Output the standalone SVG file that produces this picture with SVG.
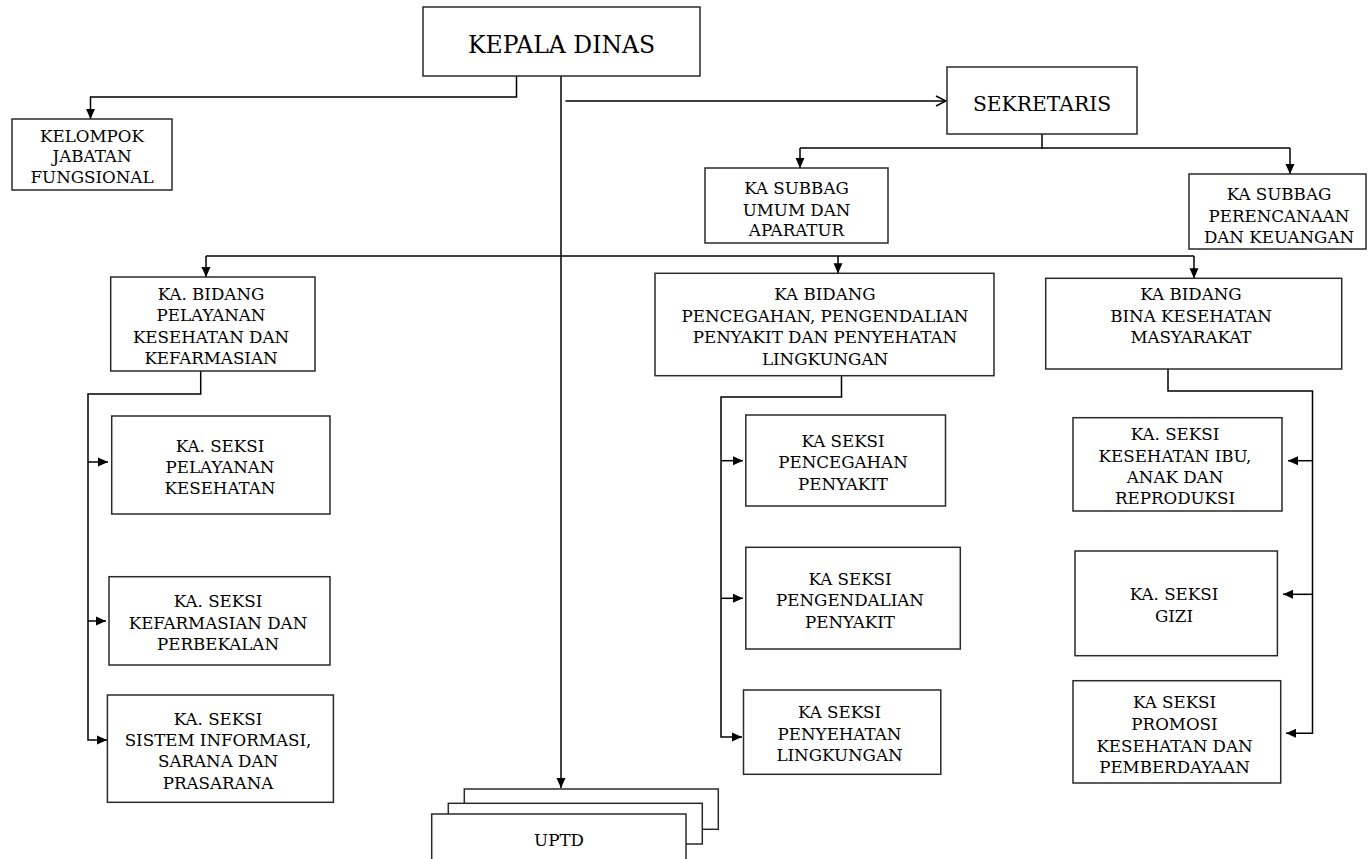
<svg xmlns="http://www.w3.org/2000/svg" width="1368" height="859" viewBox="0 0 1368 859">
<style>
  .box { fill: #ffffff; stroke: #2a2a2a; stroke-width: 1.5; }
  .ln { fill: none; stroke: #000000; stroke-width: 1.5; }
  text { font-family: "DejaVu Serif", "Liberation Serif", serif; fill: #000000; text-anchor: middle; }
  .t { font-size: 16.7px; }
  .big { font-size: 23.5px; }
  .mid { font-size: 20.3px; }
</style>
<defs>
  <marker id="arr" viewBox="0 0 10 10" refX="10" refY="5" markerWidth="10" markerHeight="10" markerUnits="userSpaceOnUse" orient="auto">
    <path d="M0,0.5 L10,5 L0,9.5 z" fill="#000"/>
  </marker>
  <marker id="open" viewBox="0 0 12 12" refX="11" refY="6" markerWidth="12" markerHeight="12" markerUnits="userSpaceOnUse" orient="auto">
    <path d="M1,1 L11,6 L1,11" fill="none" stroke="#000" stroke-width="1.5"/>
  </marker>
</defs>
<rect width="1368" height="859" fill="#ffffff"/>

<g id="connectors">
  <polyline class="ln" points="516.5,76 516.5,97 90.5,97 90.5,119" marker-end="url(#arr)"/>
  <line class="ln" x1="561" y1="76" x2="561" y2="788" marker-end="url(#arr)"/>
  <line class="ln" x1="565.5" y1="101" x2="946" y2="101" marker-end="url(#open)"/>
  <line class="ln" x1="1042" y1="134" x2="1042" y2="149"/>
  <line class="ln" x1="800" y1="148" x2="1290" y2="148"/>
  <line class="ln" x1="800" y1="148" x2="800" y2="168" marker-end="url(#arr)"/>
  <line class="ln" x1="1290" y1="148" x2="1290" y2="174" marker-end="url(#arr)"/>
  <line class="ln" x1="206" y1="256" x2="1194" y2="256"/>
  <line class="ln" x1="206" y1="256" x2="206" y2="277" marker-end="url(#arr)"/>
  <line class="ln" x1="838" y1="256" x2="838" y2="273.3" marker-end="url(#arr)"/>
  <line class="ln" x1="1194" y1="256" x2="1194" y2="278.3" marker-end="url(#arr)"/>
  <polyline class="ln" points="200.7,371 200.7,394 88,394 88,740 107,740" marker-end="url(#arr)"/>
  <line class="ln" x1="88" y1="462" x2="108" y2="462" marker-end="url(#arr)"/>
  <line class="ln" x1="88" y1="621" x2="106" y2="621" marker-end="url(#arr)"/>
  <polyline class="ln" points="841.5,375.7 841.5,397 721,397 721,737 742,737" marker-end="url(#arr)"/>
  <line class="ln" x1="721" y1="460.7" x2="743" y2="460.7" marker-end="url(#arr)"/>
  <line class="ln" x1="721" y1="598.3" x2="743" y2="598.3" marker-end="url(#arr)"/>
  <polyline class="ln" points="1168,369 1168,391 1312.5,391 1312.5,733.3 1286,733.3" marker-end="url(#arr)"/>
  <line class="ln" x1="1312.5" y1="460.7" x2="1288" y2="460.7" marker-end="url(#arr)"/>
  <line class="ln" x1="1312.5" y1="594.3" x2="1283" y2="594.3" marker-end="url(#arr)"/>
</g>

<g id="kepala-dinas">
  <rect class="box" x="423" y="7" width="277" height="69"/>
  <text class="big" x="561.5" y="53">KEPALA DINAS</text>
</g>

<g id="kelompok-jabatan">
  <rect class="box" x="12" y="119" width="160" height="71"/>
  <text class="t" x="92" y="141.5">KELOMPOK</text>
  <text class="t" x="92" y="162">JABATAN</text>
  <text class="t" x="92" y="183">FUNGSIONAL</text>
</g>

<g id="sekretaris">
  <rect class="box" x="947" y="67" width="190" height="67"/>
  <text class="mid" x="1042" y="110.5">SEKRETARIS</text>
</g>

<g id="subbag-umum">
  <rect class="box" x="705" y="168" width="183" height="75"/>
  <text class="t" x="796.5" y="194.3">KA SUBBAG</text>
  <text class="t" x="796.5" y="215.7">UMUM DAN</text>
  <text class="t" x="796.5" y="236">APARATUR</text>
</g>

<g id="subbag-perencanaan">
  <rect class="box" x="1189" y="174" width="177" height="75"/>
  <text class="t" x="1279" y="200">KA SUBBAG</text>
  <text class="t" x="1279" y="221.7">PERENCANAAN</text>
  <text class="t" x="1279" y="242.7">DAN KEUANGAN</text>
</g>

<g id="bidang-pelayanan">
  <rect class="box" x="110.7" y="277" width="204.3" height="94"/>
  <text class="t" x="211" y="300">KA. BIDANG</text>
  <text class="t" x="211" y="321.3">PELAYANAN</text>
  <text class="t" x="211" y="342.6">KESEHATAN DAN</text>
  <text class="t" x="211" y="364">KEFARMASIAN</text>
</g>

<g id="bidang-p2pl">
  <rect class="box" x="655" y="273.3" width="339" height="102.4"/>
  <text class="t" x="825" y="300">KA BIDANG</text>
  <text class="t" x="825" y="321.7">PENCEGAHAN, PENGENDALIAN</text>
  <text class="t" x="825" y="343.3">PENYAKIT DAN PENYEHATAN</text>
  <text class="t" x="825" y="365">LINGKUNGAN</text>
</g>

<g id="bidang-kesmas">
  <rect class="box" x="1045.7" y="278.3" width="296" height="90.7"/>
  <text class="t" x="1191" y="300">KA BIDANG</text>
  <text class="t" x="1191" y="321.7">BINA KESEHATAN</text>
  <text class="t" x="1191" y="343.3">MASYARAKAT</text>
</g>

<g id="seksi-pelayanan">
  <rect class="box" x="111.7" y="416" width="218.3" height="98"/>
  <text class="t" x="220" y="451.7">KA. SEKSI</text>
  <text class="t" x="220" y="472.7">PELAYANAN</text>
  <text class="t" x="220" y="494.3">KESEHATAN</text>
</g>

<g id="seksi-kefarmasian">
  <rect class="box" x="109" y="576.7" width="221" height="88.3"/>
  <text class="t" x="218" y="607">KA. SEKSI</text>
  <text class="t" x="218" y="628.5">KEFARMASIAN DAN</text>
  <text class="t" x="218" y="650">PERBEKALAN</text>
</g>

<g id="seksi-sistem-informasi">
  <rect class="box" x="107.4" y="695" width="226" height="107.3"/>
  <text class="t" x="218" y="725">KA. SEKSI</text>
  <text class="t" x="218" y="746">SISTEM INFORMASI,</text>
  <text class="t" x="218" y="767.3">SARANA DAN</text>
  <text class="t" x="218" y="789">PRASARANA</text>
</g>

<g id="seksi-pencegahan">
  <rect class="box" x="745.8" y="415" width="199.7" height="91"/>
  <text class="t" x="843" y="447.3">KA SEKSI</text>
  <text class="t" x="843" y="468.3">PENCEGAHAN</text>
  <text class="t" x="843" y="490">PENYAKIT</text>
</g>

<g id="seksi-pengendalian">
  <rect class="box" x="745.8" y="547.3" width="214.5" height="101.7"/>
  <text class="t" x="850" y="585">KA SEKSI</text>
  <text class="t" x="850" y="606">PENGENDALIAN</text>
  <text class="t" x="850" y="627.7">PENYAKIT</text>
</g>

<g id="seksi-penyehatan">
  <rect class="box" x="743.5" y="690" width="197.3" height="84.3"/>
  <text class="t" x="839.5" y="718.3">KA SEKSI</text>
  <text class="t" x="839.5" y="740">PENYEHATAN</text>
  <text class="t" x="839.5" y="761">LINGKUNGAN</text>
</g>

<g id="seksi-kia">
  <rect class="box" x="1073" y="417.7" width="209" height="93.3"/>
  <text class="t" x="1175" y="440">KA. SEKSI</text>
  <text class="t" x="1175" y="461.7">KESEHATAN IBU,</text>
  <text class="t" x="1175" y="482.7">ANAK DAN</text>
  <text class="t" x="1175" y="504">REPRODUKSI</text>
</g>

<g id="seksi-gizi">
  <rect class="box" x="1075" y="551" width="202.4" height="104.7"/>
  <text class="t" x="1174" y="600">KA. SEKSI</text>
  <text class="t" x="1174" y="621.7">GIZI</text>
</g>

<g id="seksi-promosi">
  <rect class="box" x="1073" y="680.7" width="207.7" height="102.3"/>
  <text class="t" x="1174.5" y="708.3">KA SEKSI</text>
  <text class="t" x="1174.5" y="730">PROMOSI</text>
  <text class="t" x="1174.5" y="751.7">KESEHATAN DAN</text>
  <text class="t" x="1174.5" y="773.3">PEMBERDAYAAN</text>
</g>

<g id="uptd">
  <rect class="box" x="464.3" y="789" width="254" height="40.3"/>
  <rect class="box" x="448.3" y="803.3" width="254" height="40.7"/>
  <rect class="box" x="431.7" y="814" width="254.3" height="60"/>
  <text class="t" x="559" y="846">UPTD</text>
</g>
</svg>
